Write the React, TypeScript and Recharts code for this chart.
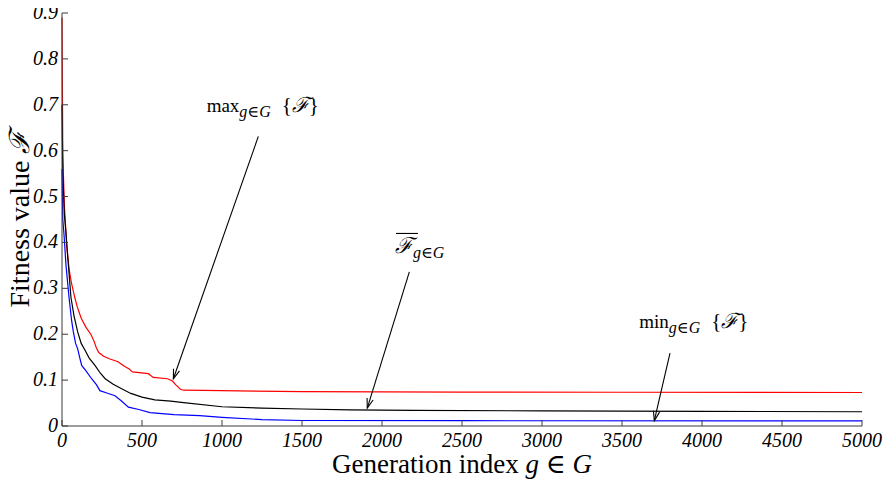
import React from "react";
import {
  LineChart,
  Line,
  XAxis,
  YAxis,
  ReferenceLine,
  ReferenceDot,
} from "recharts";

// generation index / fitness values
const maxGen = [0, 5, 15, 30, 45, 60, 80, 95, 120, 150, 180, 200, 215, 230, 260, 300, 350, 390, 420, 440, 540, 570, 660, 690, 710, 740, 760, 1000, 1500, 2500, 3500, 5000];
const maxFit = [0.89, 0.59, 0.48, 0.39, 0.34, 0.31, 0.28, 0.26, 0.235, 0.215, 0.2, 0.185, 0.17, 0.16, 0.152, 0.146, 0.14, 0.13, 0.124, 0.118, 0.114, 0.106, 0.103, 0.098, 0.09, 0.08, 0.078, 0.077, 0.075, 0.074, 0.0735, 0.073];

const meanGen = [0, 5, 15, 25, 40, 56, 75, 98, 120, 144, 170, 206, 240, 270, 320, 373, 430, 500, 580, 680, 760, 1000, 1250, 1500, 1800, 2200, 3000, 4000, 5000];
const meanFit = [0.7, 0.55, 0.46, 0.42, 0.35, 0.28, 0.24, 0.205, 0.18, 0.165, 0.148, 0.132, 0.115, 0.103, 0.091, 0.081, 0.071, 0.063, 0.057, 0.054, 0.051, 0.042, 0.039, 0.037, 0.035, 0.034, 0.033, 0.032, 0.031];

const minGen = [0, 5, 12, 25, 44, 60, 71, 85, 98, 110, 123, 150, 185, 215, 237, 280, 331, 370, 415, 480, 550, 700, 860, 1000, 1250, 1500, 2500, 5000];
const minFit = [0.56, 0.45, 0.42, 0.35, 0.28, 0.23, 0.205, 0.18, 0.168, 0.15, 0.132, 0.12, 0.103, 0.09, 0.077, 0.072, 0.066, 0.055, 0.041, 0.036, 0.029, 0.025, 0.0225, 0.019, 0.014, 0.012, 0.0115, 0.011];

const xTicks = [0, 500, 1000, 1500, 2000, 2500, 3000, 3500, 4000, 4500, 5000];
const yTicks = [0, 0.1, 0.2, 0.3, 0.4, 0.5, 0.6, 0.7, 0.8, 0.9];

// annotation arrows: [from, to] in data coordinates
const arrowMax = [{ x: 1227, y: 0.631 }, { x: 696, y: 0.103 }];
const arrowMean = [{ x: 2171, y: 0.336 }, { x: 1908, y: 0.039 }];
const arrowMin = [{ x: 3800, y: 0.159 }, { x: 3702, y: 0.0116 }];

const toRows = (gs: number[], fs: number[]) => gs.map((g, i) => ({ g, f: fs[i] }));

const FONT = "'Liberation Serif', 'DejaVu Serif', serif";
const AXIS = "#3a3a3a";

const Arrow = (props: any) => {
  const { x1, y1, x2, y2 } = props;
  const a = Math.atan2(y2 - y1, x2 - x1);
  const len = 10;
  const w = 0.32;
  const p1 = [x2 - len * Math.cos(a - w), y2 - len * Math.sin(a - w)];
  const p2 = [x2 - len * Math.cos(a + w), y2 - len * Math.sin(a + w)];
  return (
    <g stroke="#000" strokeWidth={1.1} fill="none">
      <line x1={x1} y1={y1} x2={x2} y2={y2} />
      <polyline points={`${p1[0]},${p1[1]} ${x2},${y2} ${p2[0]},${p2[1]}`} />
    </g>
  );
};

const Sub = ({ dy }: { dy: number }) => (
  <tspan fontSize={16} dy={dy}>
    <tspan fontStyle="italic">g</tspan>∈<tspan fontStyle="italic">G</tspan>
  </tspan>
);

const Braced = () => (
  <tspan fontSize={21} dy={-5} dx={11}>
    {"{"}
    <tspan fontStyle="italic">ℱ</tspan>
    {"}"}
  </tspan>
);

const labelMax = (p: any) => (
  <text x={p.cx} y={p.cy} fontFamily={FONT} fontSize={19} fill="#000">
    max<Sub dy={5} />
    <Braced />
  </text>
);

const labelMin = (p: any) => (
  <text x={p.cx} y={p.cy} fontFamily={FONT} fontSize={19} fill="#000">
    min<Sub dy={5} />
    <Braced />
  </text>
);

const labelMean = (p: any) => (
  <g>
    <line x1={p.cx + 1} y1={p.cy - 20} x2={p.cx + 23} y2={p.cy - 20} stroke="#000" strokeWidth={1.1} />
    <text x={p.cx} y={p.cy} fontFamily={FONT} fontSize={22} fill="#000">
      <tspan fontStyle="italic">ℱ</tspan>
      <Sub dy={5} />
    </text>
  </g>
);

const YTick = (props: any) => {
  const { x, y, payload } = props;
  const ax = x + 5;
  return (
    <g>
      <line x1={ax} y1={y} x2={ax + 6} y2={y} stroke={AXIS} strokeWidth={1} />
      <text x={ax - 4} y={y + 6} textAnchor="end" fontFamily={FONT} fontStyle="italic" fontSize={20} fill="#000">
        {payload.value === 0 ? "0" : payload.value.toFixed(1)}
      </text>
    </g>
  );
};

const XTick = (props: any) => {
  const { x, y, payload } = props;
  return (
    <g>
      <line x1={x} y1={y} x2={x} y2={y - 6} stroke={AXIS} strokeWidth={1} />
      <text x={x} y={y + 21} textAnchor="middle" fontFamily={FONT} fontStyle="italic" fontSize={20} fill="#000">
        {payload.value}
      </text>
    </g>
  );
};

const XTitle = (props: any) => {
  const { x, y, width } = props.viewBox;
  return (
    <text x={x + width / 2} y={y + 47} textAnchor="middle" fontFamily={FONT} fontSize={27} fill="#000">
      Generation index <tspan fontStyle="italic">g</tspan> ∈ <tspan fontStyle="italic">G</tspan>
    </text>
  );
};

const YTitle = () => (
  <text
    x={29}
    y={219}
    transform="rotate(-90 29 219)"
    textAnchor="middle"
    fontFamily={FONT}
    fontSize={28}
    fill="#000"
  >
    Fitness value <tspan fontStyle="italic">ℱ</tspan>
  </text>
);

export default function App() {
  return (
    <div style={{ margin: "-8px 0 0 -8px", width: 894, height: 483 }}>
      <LineChart width={894} height={483} margin={{ top: 13, right: 32, bottom: 0, left: 8 }}>
        <XAxis
          dataKey="g"
          type="number"
          domain={[0, 5000]}
          ticks={xTicks}
          interval={0}
          allowDuplicatedCategory={false}
          height={57}
          stroke={AXIS}
          tickLine={false}
          tickSize={0}
          tickMargin={0}
          tick={<XTick />}
          label={<XTitle />}
        />
        <YAxis
          type="number"
          domain={[0, 0.9]}
          ticks={yTicks}
          interval={0}
          width={54}
          stroke={AXIS}
          tickLine={false}
          tickSize={0}
          tickMargin={5}
          tick={<YTick />}
          label={<YTitle />}
        />
        <Line data={toRows(maxGen, maxFit)} dataKey="f" stroke="#ff0000" strokeWidth={1.2} dot={false} isAnimationActive={false} />
        <Line data={toRows(meanGen, meanFit)} dataKey="f" stroke="#000000" strokeWidth={1.2} dot={false} isAnimationActive={false} />
        <Line data={toRows(minGen, minFit)} dataKey="f" stroke="#0000ff" strokeWidth={1.2} dot={false} isAnimationActive={false} />
        <ReferenceLine segment={arrowMax} shape={Arrow} ifOverflow="visible" />
        <ReferenceLine segment={arrowMean} shape={Arrow} ifOverflow="visible" />
        <ReferenceLine segment={arrowMin} shape={Arrow} ifOverflow="visible" />
        <ReferenceDot x={904} y={0.685} r={0} shape={labelMax} ifOverflow="visible" />
        <ReferenceDot x={2081} y={0.376} r={0} shape={labelMean} ifOverflow="visible" />
        <ReferenceDot x={3608} y={0.213} r={0} shape={labelMin} ifOverflow="visible" />
      </LineChart>
    </div>
  );
}
